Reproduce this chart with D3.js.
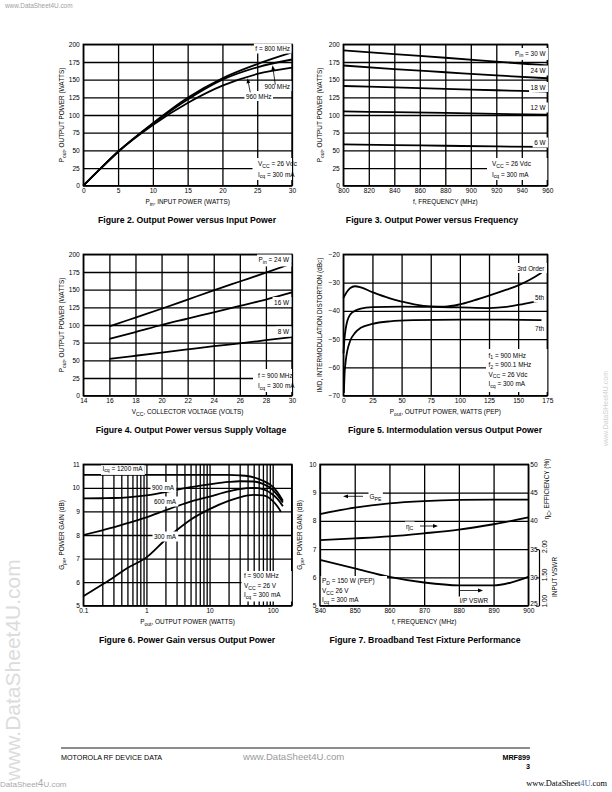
<!DOCTYPE html>
<html><head><meta charset="utf-8">
<script src="https://cdn.jsdelivr.net/npm/d3@7"></script>
<style>
body{margin:0;background:#fff;}
svg{display:block;font-family:"Liberation Sans",Arial,Helvetica,sans-serif;}
</style></head><body>
<svg id="page" width="612" height="792"></svg>
<script>
// ---------------- DATA ----------------
// Figure 2: Output Power vs Input Power
const fig2XTicks = [0, 5, 10, 15, 20, 25, 30];
const fig2YTicks = [0, 25, 50, 75, 100, 125, 150, 175, 200];
const fig2Pin = [0, 2.5, 5, 10, 15, 20, 25, 30];
const fig2Pout800 = [0, 24.5, 48, 88.5, 124.5, 152, 172, 188.5];
const fig2Pout900 = [0, 24.5, 48, 87.5, 122, 150, 167.5, 178.5];
const fig2Pout960 = [0, 24.5, 48, 86, 117, 141.5, 158, 167];

// Figure 3: Output Power vs Frequency
const fig3XTicks = [800, 820, 840, 860, 880, 900, 920, 940, 960];
const fig3YTicks = [0, 25, 50, 75, 100, 125, 150, 175, 200];
const fig3Freq = [800, 840, 880, 920, 960];
const fig3Pin30 = [191.5, 186, 181, 175.5, 170];
const fig3Pin24 = [170, 165, 160.5, 156, 152];
const fig3Pin18 = [141, 139, 137, 135, 133];
const fig3Pin12 = [105, 104, 103, 101.5, 100.5];
const fig3Pin6 = [58.5, 57.5, 56.5, 55.5, 55];

// Figure 4: Output Power vs Supply Voltage
const fig4XTicks = [14, 16, 18, 20, 22, 24, 26, 28, 30];
const fig4YTicks = [0, 25, 50, 75, 100, 125, 150, 175, 200];
const fig4Vcc = [16, 18, 20, 22, 24, 26, 28, 30];
const fig4Pin24 = [98, 110.5, 123, 136, 149, 161.5, 174, 187];
const fig4Pin16 = [80.5, 90, 100, 109, 118, 127, 136, 146];
const fig4Pin8 = [52, 56.5, 61, 65.5, 70, 74, 78.5, 83];

// Figure 5: Intermodulation vs Output Power
const fig5XTicks = [0, 25, 50, 75, 100, 125, 150, 175];
const fig5YTicks = [-70, -60, -50, -40, -30, -20];
const fig5Pout3rd = [0, 3, 6, 10, 15, 25, 40, 50, 62, 75, 87, 100, 112, 125, 140, 150, 160, 170];
const fig5Imd3rd = [-35.5, -33.3, -31.9, -31.3, -31.7, -33.4, -35.6, -36.7, -37.8, -38.4, -38.5, -37.7, -36.3, -34.6, -32.5, -31, -29, -26.5];
const fig5Pout5th = [0.2, 1, 2, 3.5, 6, 10, 15, 25, 50, 75, 100, 125, 140, 155, 170];
const fig5Imd5th = [-55, -50, -46.5, -43.5, -41.3, -40, -39.2, -38.7, -38.5, -38.6, -38.8, -39, -38.6, -37.5, -36.3];
const fig5Pout7th = [0.5, 1, 2, 3.5, 6, 10, 15, 25, 40, 60, 100, 140, 170];
const fig5Imd7th = [-69, -63, -58, -54, -50.5, -47.8, -46, -44.6, -43.7, -43.3, -43.1, -43.1, -43.3];

// Figure 6: Power Gain vs Output Power (log x)
const fig6XTicks = [0.1, 1, 10, 100];
const fig6XGrid = [0.1,0.2,0.3,0.4,0.5,0.6,0.7,0.8,0.9,1,2,3,4,5,6,7,8,9,10,20,30,40,50,60,70,80,90,100,200];
const fig6YTicks = [5, 6, 7, 8, 9, 10, 11];
const fig6Pout = [0.1, 0.2, 0.3, 0.5, 1, 2, 3, 5, 10, 20, 30, 50, 70, 100, 120, 145];
const fig6G1200 = [10.55, 10.55, 10.55, 10.55, 10.55, 10.55, 10.55, 10.55, 10.55, 10.55, 10.53, 10.45, 10.3, 10.05, 9.8, 9.45];
const fig6G900 = [9.55, 9.56, 9.57, 9.6, 9.68, 9.82, 9.92, 10.03, 10.15, 10.25, 10.28, 10.27, 10.17, 9.92, 9.68, 9.38];
const fig6G600 = [8.0, 8.2, 8.32, 8.5, 8.75, 9.05, 9.22, 9.42, 9.63, 9.85, 9.95, 10.0, 9.95, 9.72, 9.52, 9.22];
const fig6Pout300 = [0.1, 0.2, 0.3, 0.5, 1, 2, 3, 5, 10, 20, 30, 50, 70, 100, 120, 135];
const fig6G300 = [5.4, 5.9, 6.2, 6.6, 7.05, 7.8, 8.2, 8.65, 9.1, 9.45, 9.6, 9.7, 9.68, 9.45, 9.2, 8.98];

// Figure 7: Broadband Test Fixture Performance
const fig7XTicks = [840, 850, 860, 870, 880, 890, 900];
const fig7GainTicks = [5, 6, 7, 8, 9, 10];
const fig7EffTicks = [25, 30, 35, 40, 45, 50];
const fig7VswrTicks = [1.0, 1.5, 2.0];
const fig7Freq = [840, 850, 860, 870, 880, 890, 900];
const fig7Gpe = [8.24, 8.47, 8.62, 8.7, 8.74, 8.75, 8.75];
const fig7Eff = [36.6, 36.9, 37.25, 37.8, 38.45, 39.4, 40.6];
const fig7VswrFreq = [840, 850, 860, 870, 880, 890, 895, 900];
const fig7Vswr = [1.81, 1.66, 1.51, 1.41, 1.36, 1.36, 1.41, 1.51];

// ---------------- DRAWING ----------------
const svg = d3.select("#page");
const FONT = '"Liberation Sans", Arial, Helvetica, sans-serif';
const TICK_FS = 6.6, TITLE_FS = 6.4, NOTE_FS = 6.4;

function rich(sel, str, fs) {
  const parts = str.split(/(_\{[^}]*\})/).filter(s => s.length);
  let down = false;
  parts.forEach(p => {
    if (p.startsWith("_{")) {
      sel.append("tspan").attr("dy", fs * 0.3).attr("font-size", fs * 0.8).text(p.slice(2, -1));
      down = true;
    } else {
      const t = sel.append("tspan").text(p);
      if (down) { t.attr("dy", -fs * 0.3); down = false; }
    }
  });
}

function styleAxis(a, fs) {
  a.attr("font-family", FONT).attr("font-size", fs);
  a.select(".domain").remove();
  a.selectAll("text").attr("fill", "#000");
}

function panel(c) {
  const g = svg.append("g");
  const [x0, x1] = c.xs.range();
  const [y1, y0] = c.ys.range();
  // grid
  g.append("g").attr("transform", `translate(0,${y1})`)
    .call(d3.axisBottom(c.xs).tickValues(c.xgrid).tickSize(-(y1 - y0)).tickFormat(""))
    .call(a => { styleAxis(a, 6); a.selectAll("line").attr("stroke", "#000").attr("stroke-width", 1.3); });
  g.append("g").attr("transform", `translate(${x0},0)`)
    .call(d3.axisLeft(c.ys).tickValues(c.ygrid).tickSize(-(x1 - x0)).tickFormat(""))
    .call(a => { styleAxis(a, 6); a.selectAll("line").attr("stroke", "#000").attr("stroke-width", 1.3); });
  g.append("rect").attr("x", x0).attr("y", y0).attr("width", x1 - x0).attr("height", y1 - y0)
    .attr("fill", "none").attr("stroke", "#000").attr("stroke-width", 1.4);
  // tick labels
  g.append("g").attr("transform", `translate(0,${y1})`)
    .call(d3.axisBottom(c.xs).tickValues(c.xticks).tickSize(0).tickPadding(3).tickFormat(c.xfmt || (d => d)))
    .call(a => styleAxis(a, TICK_FS));
  g.append("g").attr("transform", `translate(${x0},0)`)
    .call(d3.axisLeft(c.ys).tickValues(c.yticks).tickSize(0).tickPadding(c.ypad || 3.5).tickFormat(c.yfmt || (d => d)))
    .call(a => styleAxis(a, TICK_FS));
  // titles
  const xt = g.append("text").attr("x", (x0 + x1) / 2 + (c.xtdx || 0)).attr("y", y1 + 18.5)
    .attr("text-anchor", "middle").attr("font-size", TITLE_FS);
  rich(xt, c.xtitle, TITLE_FS);
  const yt = g.append("text").attr("transform", `translate(${x0 - (c.ytoff || 19)},${(y0 + y1) / 2}) rotate(-90)`)
    .attr("text-anchor", "middle").attr("font-size", TITLE_FS);
  rich(yt, c.ytitle, TITLE_FS);
  // figure caption
  g.append("text").attr("x", c.capx).attr("y", y1 + 37).attr("text-anchor", "middle")
    .attr("font-size", 8.7).attr("font-weight", "bold").text(c.caption);
  c.g = g;
  c.marks = g.append("g");
  return c;
}

function series(c, X, Y, ys, w) {
  const yy = ys || c.ys;
  c.marks.append("path").datum(X.map((x, i) => [x, Y[i]]))
    .attr("d", d3.line().x(d => c.xs(d[0])).y(d => yy(d[1])).curve(d3.curveMonotoneX))
    .attr("fill", "none").attr("stroke", "#000").attr("stroke-width", w || 1.8).attr("stroke-linejoin", "round");
}

function note(c, x, y, lines, o = {}) {
  const fs = o.fs || NOTE_FS, lh = o.lh || 9.6;
  const grp = c.g.append("g");
  const bg = grp.append("rect").attr("fill", "#fff");
  const ts = lines.map((s, i) => {
    const t = grp.append("text").attr("x", x).attr("y", y + i * lh).attr("font-size", fs)
      .attr("text-anchor", o.anchor || "start");
    rich(t, s, fs);
    return t;
  });
  let bx0 = Infinity, by0 = Infinity, bx1 = -Infinity, by1 = -Infinity;
  ts.forEach(t => { const b = t.node().getBBox(); bx0 = Math.min(bx0, b.x); by0 = Math.min(by0, b.y); bx1 = Math.max(bx1, b.x + b.width); by1 = Math.max(by1, b.y + b.height); });
  const p = o.pad == null ? 1.5 : o.pad;
  const X0 = o.bx0 != null ? o.bx0 : bx0 - p, X1 = o.bx1 != null ? o.bx1 : bx1 + p;
  const Y0 = o.by0 != null ? o.by0 : by0 - p, Y1 = o.by1 != null ? o.by1 : by1 + p;
  if (o.box !== false) bg.attr("x", X0).attr("y", Y0).attr("width", X1 - X0).attr("height", Y1 - Y0);
  else bg.remove();
}

function arrow(c, xa, ya, xb, yb) {
  const g = c.g.append("g");
  const ang = Math.atan2(yb - ya, xb - xa), L = 5, Wd = 1.9;
  const bx = xb - L * Math.cos(ang), by = yb - L * Math.sin(ang);
  g.append("line").attr("x1", xa).attr("y1", ya).attr("x2", bx).attr("y2", by).attr("stroke", "#000").attr("stroke-width", 0.8);
  const px = -Math.sin(ang) * Wd, py = Math.cos(ang) * Wd;
  g.append("path").attr("d", `M${xb},${yb}L${bx + px},${by + py}L${bx - px},${by - py}Z`).attr("fill", "#000");
}

// ---- Figure 2 ----
const c2 = panel({
  xs: d3.scaleLinear().domain([0, 30]).range([83.3, 292]),
  ys: d3.scaleLinear().domain([0, 200]).range([185.7, 44.3]),
  xgrid: fig2XTicks, ygrid: fig2YTicks, xticks: fig2XTicks, yticks: fig2YTicks,
  xtitle: "P_{in}, INPUT POWER (WATTS)", ytitle: "P_{out}, OUTPUT POWER (WATTS)",
  caption: "Figure 2. Output Power versus Input Power", capx: 187
});
note(c2, 290, 51, ["f = 800 MHz"], { anchor: "end" });
note(c2, 290, 88.5, ["900 MHz"], { anchor: "end" });
note(c2, 271.5, 98.5, ["960 MHz"], { anchor: "end" });
note(c2, 258, 166, ["V_{CC} = 26 Vdc", "I_{cq} = 300 mA"], { lh: 10.5, bx0: 252.5, bx1: 292, by0: 158, by1: 180 });
series(c2, fig2Pin, fig2Pout800);
series(c2, fig2Pin, fig2Pout900);
series(c2, fig2Pin, fig2Pout960);
arrow(c2, c2.xs(27.6), c2.ys(143), c2.xs(27.2), c2.ys(170.5));
arrow(c2, c2.xs(24.0), c2.ys(132), c2.xs(23.6), c2.ys(152));

// ---- Figure 3 ----
const c3 = panel({
  xs: d3.scaleLinear().domain([800, 960]).range([343.3, 547.3]),
  ys: d3.scaleLinear().domain([0, 200]).range([185.7, 44.3]),
  xgrid: fig3XTicks, ygrid: fig3YTicks, xticks: fig3XTicks, yticks: fig3YTicks,
  xtitle: "f, FREQUENCY (MHz)", ytitle: "P_{out}, OUTPUT POWER (WATTS)", ytoff: 21,
  caption: "Figure 3. Output Power versus Frequency", capx: 432
});
note(c3, 545.5, 55.5, ["P_{in} = 30 W"], { anchor: "end" });
note(c3, 545.5, 73, ["24 W"], { anchor: "end" });
note(c3, 545.5, 89.5, ["18 W"], { anchor: "end" });
note(c3, 545.5, 110, ["12 W"], { anchor: "end" });
note(c3, 545.5, 145, ["6 W"], { anchor: "end" });
note(c3, 492, 166, ["V_{CC} = 26 Vdc", "I_{cq} = 300 mA"], { lh: 10.5, bx0: 487, bx1: 547.3, by0: 158, by1: 180 });
series(c3, fig3Freq, fig3Pin30);
series(c3, fig3Freq, fig3Pin24);
series(c3, fig3Freq, fig3Pin18);
series(c3, fig3Freq, fig3Pin12);
series(c3, fig3Freq, fig3Pin6);

// ---- Figure 4 ----
const c4 = panel({
  xs: d3.scaleLinear().domain([14, 30]).range([83.3, 292]),
  ys: d3.scaleLinear().domain([0, 200]).range([395.7, 254.3]),
  xgrid: fig4XTicks, ygrid: fig4YTicks, xticks: fig4XTicks, yticks: fig4YTicks,
  xtitle: "V_{CC}, COLLECTOR VOLTAGE (VOLTS)", ytitle: "P_{out}, OUTPUT POWER (WATTS)",
  caption: "Figure 4. Output Power versus Supply Voltage", capx: 191
});
note(c4, 289, 262, ["P_{in} = 24 W"], { anchor: "end" });
note(c4, 289, 304.5, ["16 W"], { anchor: "end" });
note(c4, 289, 334, ["8 W"], { anchor: "end" });
note(c4, 258, 377.5, ["f = 900 MHz", "I_{cq} = 300 mA"], { lh: 10.5, bx0: 253, bx1: 292, by0: 369, by1: 392 });
series(c4, fig4Vcc, fig4Pin24);
series(c4, fig4Vcc, fig4Pin16);
series(c4, fig4Vcc, fig4Pin8);

// ---- Figure 5 ----
const c5 = panel({
  xs: d3.scaleLinear().domain([0, 175]).range([343.3, 547.3]),
  ys: d3.scaleLinear().domain([-70, -20]).range([395.7, 254.3]),
  xgrid: fig5XTicks, ygrid: fig5YTicks, xticks: fig5XTicks, yticks: fig5YTicks,
  yfmt: d3.format("d"),
  xtitle: "P_{out}, OUTPUT POWER, WATTS (PEP)", ytitle: "IMD, INTERMODULATION DISTORTION (dBc)", ytoff: 21,
  caption: "Figure 5. Intermodulation versus Output Power", capx: 445
});
note(c5, 544.5, 270.5, ["3rd Order"], { anchor: "end" });
note(c5, 544, 300, ["5th"], { anchor: "end" });
note(c5, 544, 330.5, ["7th"], { anchor: "end" });
note(c5, 488.5, 357.5, ["f_{1} = 900 MHz", "f_{2} = 900.1 MHz", "V_{CC} = 26 Vdc", "I_{cq} = 300 mA"], { lh: 9.5, bx0: 486, bx1: 547.3, by0: 349, by1: 392 });
series(c5, fig5Pout3rd, fig5Imd3rd);
series(c5, fig5Pout5th, fig5Imd5th);
series(c5, fig5Pout7th, fig5Imd7th);

// ---- Figure 6 ----
const c6 = panel({
  xs: d3.scaleLog().domain([0.1, 200]).range([83.3, 291.7]),
  ys: d3.scaleLinear().domain([5, 11]).range([605.7, 464.3]),
  xgrid: fig6XGrid, ygrid: fig6YTicks, xticks: fig6XTicks, yticks: fig6YTicks,
  xfmt: d => String(d),
  xtitle: "P_{out}, OUTPUT POWER (WATTS)", ytitle: "G_{pe}, POWER GAIN (dB)",
  caption: "Figure 6. Power Gain versus Output Power", capx: 187
});
note(c6, 102.5, 470.5, ["I_{cq} = 1200 mA"], { by0: 465.2 });
note(c6, 152, 489.5, ["900 mA"]);
note(c6, 154, 504, ["600 mA"]);
note(c6, 154, 539, ["300 mA"]);
note(c6, 244, 578, ["f = 900 MHz", "V_{CC} = 26 V", "I_{cq} = 300 mA"], { lh: 9.7, bx0: 241.5, bx1: 291.7, by0: 571, by1: 601.5 });
series(c6, fig6Pout, fig6G1200);
series(c6, fig6Pout, fig6G900);
series(c6, fig6Pout, fig6G600);
series(c6, fig6Pout300, fig6G300);

// ---- Figure 7 ----
const c7 = panel({
  xs: d3.scaleLinear().domain([840, 900]).range([320, 528.3]),
  ys: d3.scaleLinear().domain([5, 10]).range([605.7, 464.3]),
  xgrid: fig7XTicks, ygrid: fig7GainTicks, xticks: fig7XTicks, yticks: fig7GainTicks,
  xtitle: "f, FREQUENCY (MHz)", ytitle: "G_{pe}, POWER GAIN (dB)", ytoff: 18,
  caption: "Figure 7. Broadband Test Fixture Performance", capx: 425
});
const effScale = d3.scaleLinear().domain([25, 50]).range([605.7, 464.3]);
const vswrScale = d3.scaleLinear().domain([1, 2]).range([605.7, c7.ys(7)]);
c7.g.append("g").attr("transform", "translate(528.3,0)")
  .call(d3.axisRight(effScale).tickValues(fig7EffTicks).tickSize(0).tickPadding(2))
  .call(a => {
    styleAxis(a, TICK_FS);
    a.selectAll("text").attr("y", d => d === 25 ? -2.5 : 0);
  });
const et = c7.g.append("text").attr("transform", `translate(549,489) rotate(-90)`).attr("text-anchor", "middle").attr("font-size", TITLE_FS);
rich(et, "η_{C}, EFFICIENCY (%)", TITLE_FS);
c7.g.append("g").attr("transform", "translate(539,0)")
  .call(d3.axisRight(vswrScale).tickValues(fig7VswrTicks).tickSize(0).tickPadding(5).tickFormat(d3.format(".2f")))
  .call(a => {
    a.attr("font-family", FONT).attr("font-size", TICK_FS);
    a.select(".domain").attr("stroke", "#000").attr("stroke-width", 1.2);
    a.selectAll("text").attr("fill", "#000").attr("text-anchor", "middle").attr("dy", null)
      .attr("transform", d => `translate(8,${d === 1 ? -5 : -3}) rotate(-90)`).attr("x", 0).attr("y", 0);
  });
c7.g.append("g").attr("transform", "translate(539,0)")
  .call(d3.axisLeft(vswrScale).tickValues(fig7VswrTicks).tickSize(3).tickFormat(""))
  .call(a => { a.select(".domain").remove(); a.selectAll("line").attr("stroke", "#000").attr("stroke-width", 1); });
const vt = c7.g.append("text").attr("transform", `translate(556.5,577) rotate(-90)`).attr("text-anchor", "middle").attr("font-size", TITLE_FS).text("INPUT VSWR");
note(c7, 369.5, 499, ["G_{PE}"], { pad: 1 });
note(c7, 406, 528.5, ["η_{C}"], { pad: 1 });
note(c7, 322, 583, ["P_{D} = 150 W (PEP)", "V_{CC} 26 V", "I_{cq} = 300 mA"], { lh: 9.6, bx0: 320.7, bx1: 387, by0: 576, by1: 605 });
note(c7, 459.5, 603, ["I/P VSWR"], { bx0: 457, bx1: 492, by0: 596.5, by1: 605 });
series(c7, fig7Freq, fig7Gpe);
series(c7, fig7Freq, fig7Eff, effScale);
series(c7, fig7VswrFreq, fig7Vswr, vswrScale);
arrow(c7, 363, 496.3, 343, 496.3);
arrow(c7, 420, 526, 438, 526);
arrow(c7, 460, 590.5, 483, 590.5);

// ---------------- PAGE FURNITURE ----------------
const pg = svg.append("g");
pg.append("line").attr("x1", 61).attr("x2", 530).attr("y1", 748).attr("y2", 748).attr("stroke", "#000").attr("stroke-width", 0.9);
pg.append("text").attr("x", 61).attr("y", 759.5).attr("font-size", 7.2).text("MOTOROLA RF DEVICE DATA");
pg.append("text").attr("x", 243).attr("y", 760).attr("font-size", 9.6).attr("fill", "#9a9a9a").text("www.DataSheet4U.com");
pg.append("text").attr("x", 530).attr("y", 759.5).attr("font-size", 7.2).attr("font-weight", "bold").attr("text-anchor", "end").text("MRF899");
pg.append("text").attr("x", 530).attr("y", 768.5).attr("font-size", 7.2).attr("font-weight", "bold").attr("text-anchor", "end").text("3");
const sr = pg.append("text").attr("x", 607).attr("y", 785.5).attr("font-size", 8.4).attr("text-anchor", "end")
  .attr("font-family", '"Liberation Serif","DejaVu Serif",serif');
sr.append("tspan").text("www.DataSheet");
sr.append("tspan").attr("fill", "#3a6fb0").text("4U");
sr.append("tspan").text(".com");
pg.append("text").attr("x", 5).attr("y", 8).attr("font-size", 6.4).attr("fill", "#a0a0a0").text("www.DataSheet4U.com");
pg.append("text").attr("transform", "translate(608,446) rotate(-90)").attr("font-size", 7).attr("fill", "#cfcfcf").text("www.DataSHeet4U.com");
pg.append("text").attr("transform", "translate(20,781) rotate(-90)").attr("font-size", 21).attr("fill", "#dcdcdc").text("www.DataSheet4U.com");
const bl = pg.append("text").attr("x", 0).attr("y", 787).attr("font-size", 8).attr("fill", "#a8a8a8");
bl.append("tspan").text("DataSheet");
bl.append("tspan").attr("font-size", 10).text("4");
bl.append("tspan").text("U.com");
</script>
</body></html>
